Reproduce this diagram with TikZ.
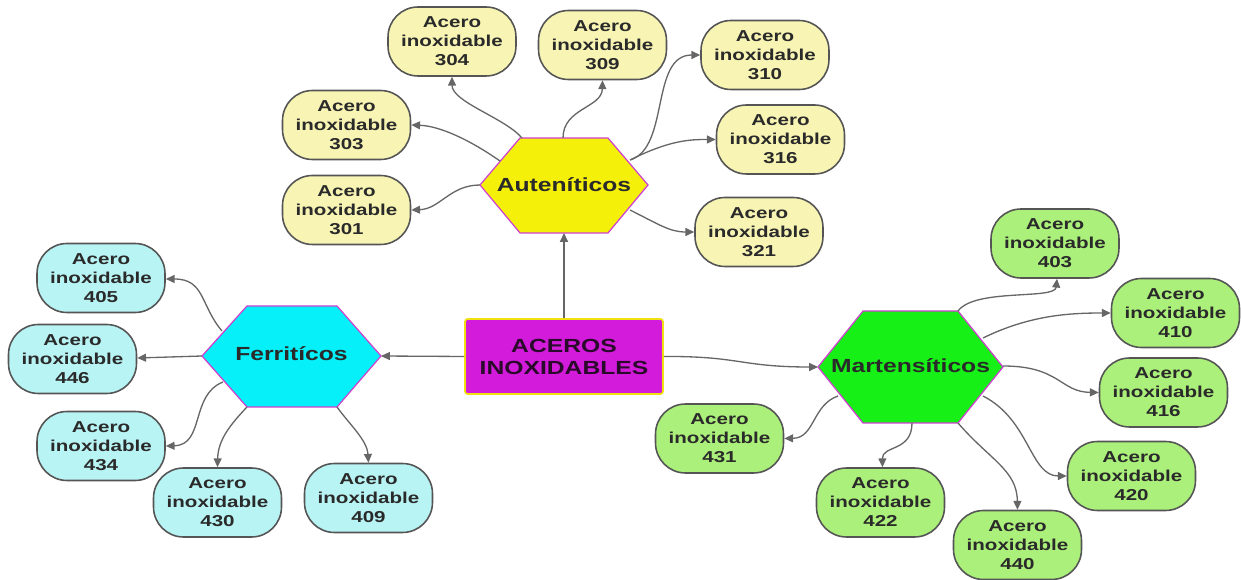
\documentclass[tikz,border=0pt]{standalone}
\usepackage{fontspec}
\setmainfont{Liberation Sans}[FakeStretch=1.3]
\usetikzlibrary{arrows.meta}
\definecolor{leafY}{HTML}{F8F5B4}
\definecolor{leafC}{HTML}{B9F4F5}
\definecolor{leafG}{HTML}{ABF07A}
\definecolor{hexY}{HTML}{F5F00A}
\definecolor{hexC}{HTML}{05F0F8}
\definecolor{hexG}{HTML}{16F016}
\definecolor{hexB}{HTML}{D040D0}
\definecolor{ctrF}{HTML}{D31BDB}
\definecolor{ctrB}{HTML}{F0E010}
\definecolor{lineG}{HTML}{666666}
\definecolor{boxB}{HTML}{555555}
\definecolor{txt}{HTML}{2A2A2A}
\definecolor{ctrT}{HTML}{2A0A2A}
\tikzset{
  leaf/.style={draw=boxB, line width=0.9pt, rounded corners=0.6cm, minimum width=2.56cm,
    minimum height=1.38cm, align=center, inner sep=1pt, text=txt,
    font=\fontsize{9}{10.8}\selectfont\bfseries},
  hexshape/.style={draw=hexB, line width=0.7pt},
  hexlabel/.style={font=\fontsize{10.8}{13}\selectfont\bfseries, text=txt},
  conn/.style={draw=lineG, line width=0.75pt, -{Triangle[length=5pt,width=4.5pt]}},
}
\newcommand{\ai}[1]{Acero\\inoxidable\\#1}
\begin{document}
\begin{tikzpicture}[x=0.02cm,y=-0.02cm]
\useasboundingbox (0,0) rectangle (1241,580);
% center
\node[fill=ctrF, draw=ctrB, line width=1pt, rounded corners=1.5pt, minimum width=3.96cm,
  minimum height=1.5cm, align=center, text=ctrT,
  font=\fontsize{10.8}{12.5}\selectfont\bfseries] (ctr) at (564,356.5) {ACEROS\\INOXIDABLES};
% hexagons
\draw[hexshape, fill=hexY] (480,185) -- (520,138) -- (608,138) -- (648,185) -- (608,233) -- (520,233) -- cycle;
\node[hexlabel] (aut) at (564,185) {Auten\'{\i}ticos};
\draw[hexshape, fill=hexC] (202,356) -- (247,306) -- (337,306) -- (381,356) -- (337,407) -- (247,407) -- cycle;
\node[hexlabel] (fer) at (291.5,354) {Ferrit\'{\i}cos};
\draw[hexshape, fill=hexG] (818,367) -- (863,311) -- (958,311) -- (1003,367) -- (958,423) -- (863,423) -- cycle;
\node[hexlabel] (mar) at (910.5,366) {Martens\'{\i}ticos};
% hexagon boundary coordinates
\coordinate (autB) at (564,233);
\coordinate (autTL) at (522,138);
\coordinate (autT) at (563,138);
\coordinate (autR1) at (630,160);
\coordinate (autL1) at (500,161);
\coordinate (autL) at (480,185);
\coordinate (autR2) at (630,210);
\coordinate (ferR) at (381,356);
\coordinate (ferL1) at (222,331);
\coordinate (ferL) at (202,356);
\coordinate (ferL2) at (223,382);
\coordinate (ferB1) at (247,407);
\coordinate (ferB2) at (337,407);
\coordinate (marL) at (818,367);
\coordinate (marT) at (958,311);
\coordinate (marR1) at (983,338);
\coordinate (marR) at (1003,366);
\coordinate (marR2) at (983,396);
\coordinate (marL2) at (838,396);
\coordinate (marB1) at (912,423);
\coordinate (marB2) at (958,423);
% yellow leaves
\node[leaf, fill=leafY] (a304) at (452,41.5) {\ai{304}};
\node[leaf, fill=leafY] (a309) at (602.5,45) {\ai{309}};
\node[leaf, fill=leafY] (a310) at (765,55) {\ai{310}};
\node[leaf, fill=leafY] (a303) at (346.5,125) {\ai{303}};
\node[leaf, fill=leafY] (a316) at (780.5,139.5) {\ai{316}};
\node[leaf, fill=leafY] (a301) at (346.5,210) {\ai{301}};
\node[leaf, fill=leafY] (a321) at (759,232) {\ai{321}};
% cyan leaves
\node[leaf, fill=leafC] (f405) at (101,278) {\ai{405}};
\node[leaf, fill=leafC] (f446) at (72.5,359) {\ai{446}};
\node[leaf, fill=leafC] (f434) at (101,446) {\ai{434}};
\node[leaf, fill=leafC] (f430) at (217.5,502.5) {\ai{430}};
\node[leaf, fill=leafC] (f409) at (368.5,498) {\ai{409}};
% green leaves
\node[leaf, fill=leafG] (m403) at (1055,243.5) {\ai{403}};
\node[leaf, fill=leafG] (m410) at (1175.5,313) {\ai{410}};
\node[leaf, fill=leafG] (m416) at (1163.5,392.5) {\ai{416}};
\node[leaf, fill=leafG] (m420) at (1131.5,476) {\ai{420}};
\node[leaf, fill=leafG] (m431) at (719.5,438.5) {\ai{431}};
\node[leaf, fill=leafG] (m422) at (880.5,502.5) {\ai{422}};
\node[leaf, fill=leafG] (m440) at (1017.5,545) {\ai{440}};
% connectors from center
\draw[conn] (ctr.north) -- (autB);
\draw[conn] (ctr.west) -- (ferR);
\draw[conn] (ctr.east) .. controls (740,356) and (740,367) .. (marL);
% Autenticos
\draw[conn] (autTL) .. controls (505,118) and (452,102) .. (a304.south);
\draw[conn] (autT) .. controls (563,108) and (602,108) .. (a309.south);
\draw[conn] (autR1) .. controls (670,148) and (650,55) .. (a310.west);
\draw[conn] (autR1) .. controls (670,140) and (690,139.5) .. (a316.west);
\draw[conn] (autL1) .. controls (470,140) and (440,126) .. (a303.east);
\draw[conn] (autL) .. controls (450,185) and (440,209) .. (a301.east);
\draw[conn] (autR2) .. controls (660,225) and (670,232) .. (a321.west);
% Ferriticos
\draw[conn] (ferL1) .. controls (200,305) and (205,279) .. ([yshift=-0.02cm]f405.east);
\draw[conn] (ferL) -- ([yshift=0.02cm]f446.east);
\draw[conn] (ferL2) .. controls (190,395) and (205,445) .. (f434.east);
\draw[conn] (ferB1) .. controls (230,425) and (218,440) .. (f430.north);
\draw[conn] (ferB2) .. controls (350,425) and (367,440) .. (f409.north);
% Martensiticos
\draw[conn] (marT) .. controls (975,288) and (1055,300) .. ([xshift=0.04cm]m403.south);
\draw[conn] (marR1) .. controls (1030,315) and (1070,313) .. (m410.west);
\draw[conn] (marR) .. controls (1060,366) and (1060,392) .. (m416.west);
\draw[conn] (marR2) .. controls (1030,420) and (1030,476) .. (m420.west);
\draw[conn] (marL2) .. controls (812,405) and (815,438) .. (m431.east);
\draw[conn] (marB1) .. controls (912,452) and (882,445) .. ([xshift=0.04cm]m422.north);
\draw[conn] (marB2) .. controls (990,460) and (1017,470) .. (m440.north);
\end{tikzpicture}
\end{document}
